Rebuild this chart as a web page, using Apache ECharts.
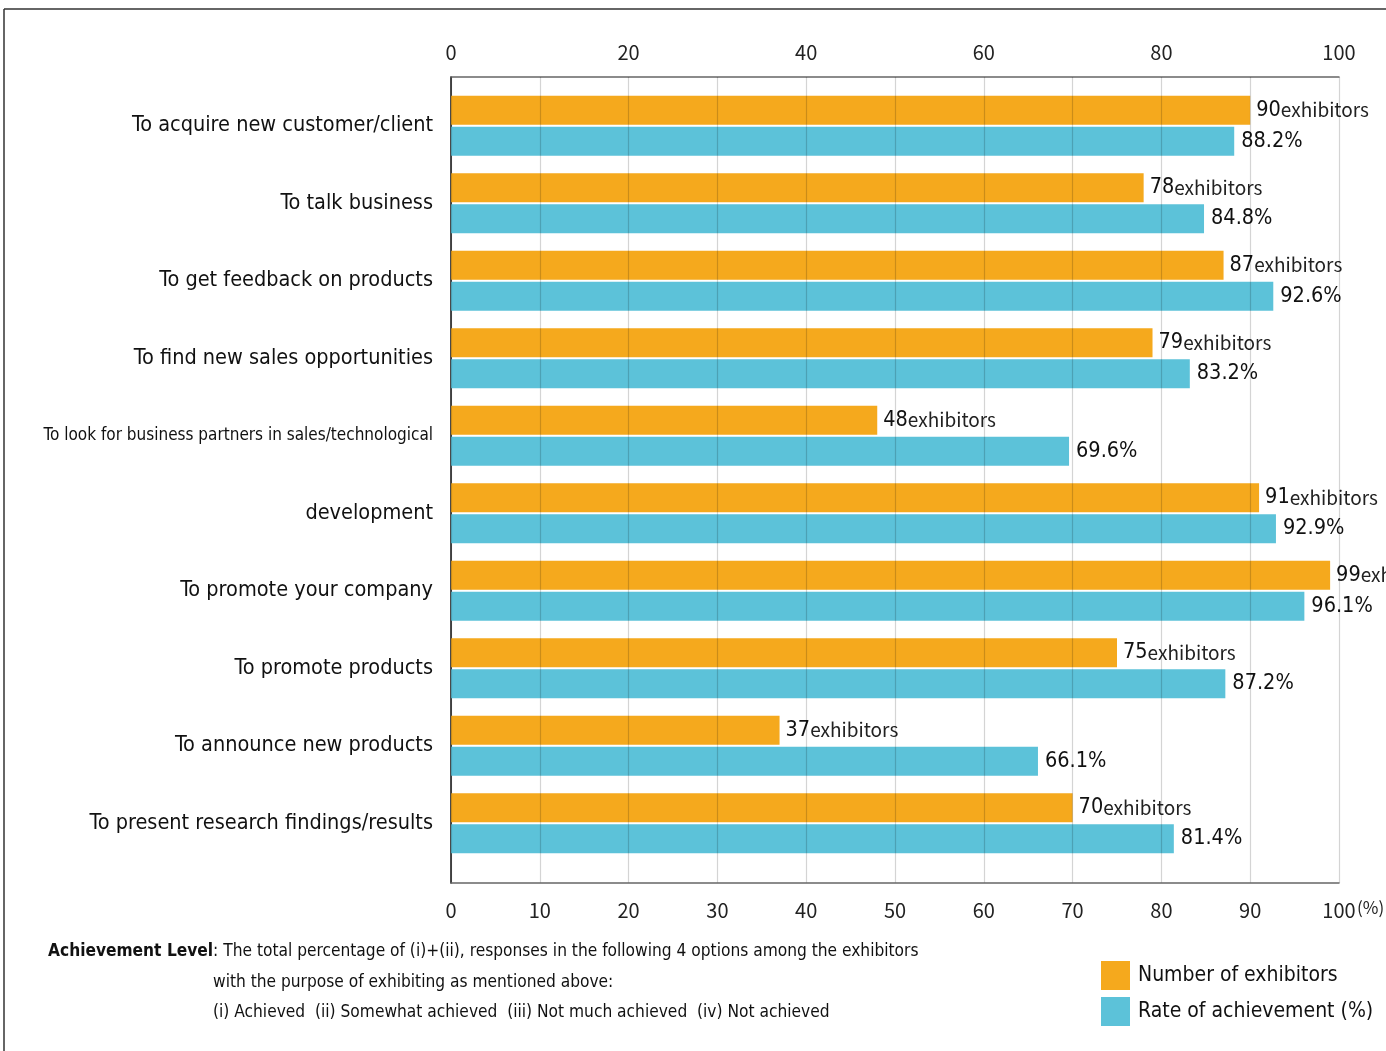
<!DOCTYPE html>
<html><head><meta charset="utf-8">
<script src="https://cdn.jsdelivr.net/npm/echarts@6/dist/echarts.min.js"></script>
<style>html,body{margin:0;padding:0;background:#fff}#c{width:1386px;height:1051px}</style>
</head><body><div id="c"></div>
<script>
const categories = [
  'To acquire new customer/client',
  'To talk business',
  'To get feedback on products',
  'To find new sales opportunities',
  'To look for business partners in sales/technological',
  'development',
  'To promote your company',
  'To promote products',
  'To announce new products',
  'To present research findings/results'
];
const exhibitors = [90, 78, 87, 79, 48, 91, 99, 75, 37, 70];
const achievementRate = [88.2, 84.8, 92.6, 83.2, 69.6, 92.9, 96.1, 87.2, 66.1, 81.4];
const topTicks = [0, 20, 40, 60, 80, 100];
const bottomTicks = [0, 10, 20, 30, 40, 50, 60, 70, 80, 90, 100];

const NARROW = '"Liberation Sans Narrow","DejaVu Sans Condensed",sans-serif';
const CJK = '"Noto Sans CJK JP","Noto Sans",sans-serif';
const ORANGE = '#F5A91D';
const BLUE = '#5CC2D9';

const chart = echarts.init(document.getElementById('c'), null, {renderer: 'canvas'});
chart.setOption({
  animation: false,
  backgroundColor: '#fff',
  grid: [
    {left: 451, right: 47, top: 77, bottom: 168, containLabel: false, outerBoundsMode: 'none'},
    {left: 451, right: 47, top: 87, bottom: 189, containLabel: false, outerBoundsMode: 'none'}
  ],
  legend: {
    orient: 'vertical', left: 1101, top: 961, itemWidth: 29, itemHeight: 29, itemGap: 7,
    padding: 0, icon: 'rect',
    textStyle: {fontFamily: NARROW, fontSize: 21, color: '#111', padding: [0, 0, 0, 3]},
    data: ['Number of exhibitors', 'Rate of achievement (%)']
  },
  xAxis: [
    {
      gridIndex: 0, type: 'value', position: 'top', min: 0, max: 100, interval: 20,
      axisLine: {show: true, lineStyle: {color: '#666', width: 1.5}},
      axisTick: {show: false}, splitLine: {show: false},
      axisLabel: {margin: 15, fontFamily: CJK, fontSize: 20, color: '#222', customValues: topTicks}
    },
    {
      gridIndex: 0, type: 'value', position: 'bottom', min: 0, max: 100, interval: 10, z: 5,
      axisLine: {show: true, lineStyle: {color: '#666', width: 1.5}},
      axisTick: {show: false},
      splitLine: {show: true, lineStyle: {color: 'rgba(0,0,0,0.17)', width: 1.2}},
      axisLabel: {margin: 17, fontFamily: CJK, fontSize: 20, color: '#222', customValues: bottomTicks}
    },
    {gridIndex: 1, type: 'value', min: 0, max: 100, show: false}
  ],
  yAxis: [
    {gridIndex: 0, type: 'category', data: [''], axisLine: {show: true, lineStyle: {color: '#111', width: 1.5}},
      axisTick: {show: false}, axisLabel: {show: false}, splitLine: {show: false}},
    {gridIndex: 1, type: 'category', data: categories, inverse: true,
      axisLine: {show: false}, axisTick: {show: false},
      axisLabel: {margin: 18, fontFamily: NARROW, fontSize: 21.5, color: '#111',
        formatter: function (v, i) { return i === 4 ? '{s|' + v + '}' : v; },
        rich: {s: {fontFamily: NARROW, fontSize: 17, color: '#111'}}}}
  ],
  series: [
    {
      name: 'Number of exhibitors', type: 'bar', xAxisIndex: 2, yAxisIndex: 1,
      data: exhibitors, barWidth: 29, barGap: '7%', itemStyle: {color: ORANGE},
      label: {show: true, position: 'right', distance: 6,
        formatter: '{n|{c}}{u|exhibitors}',
        rich: {n: {fontFamily: NARROW, fontSize: 21.5, color: '#111'},
               u: {fontFamily: CJK, fontSize: 19, color: '#222'}}}
    },
    {
      name: 'Rate of achievement (%)', type: 'bar', xAxisIndex: 2, yAxisIndex: 1,
      data: achievementRate, barWidth: 29, itemStyle: {color: BLUE},
      label: {show: true, position: 'right', distance: 7, formatter: '{c}%',
        fontFamily: NARROW, fontSize: 21.5, color: '#111'}
    }
  ],
  graphic: [
    {type: 'line', shape: {x1: 4, y1: 9, x2: 1386, y2: 9}, style: {stroke: '#333', lineWidth: 1.5}, silent: true},
    {type: 'line', shape: {x1: 4, y1: 9, x2: 4, y2: 1051}, style: {stroke: '#333', lineWidth: 1.5}, silent: true},
    {type: 'text', left: 1357, top: 899, style: {text: '(%)', font: '17px ' + CJK, fill: '#222'}},
    {type: 'text', left: 48, top: 943, style: {
      text: '{b|Achievement Level}: The total percentage of (i)+(ii), responses in the following 4 options among the exhibitors',
      rich: {b: {fontFamily: NARROW, fontSize: 17.2, fontWeight: 'bold', fill: '#111'}},
      font: '17.2px ' + NARROW, fill: '#111'}},
    {type: 'text', left: 213, top: 974, style: {text: 'with the purpose of exhibiting as mentioned above:', font: '17.2px ' + NARROW, fill: '#111'}},
    {type: 'text', left: 213, top: 1004, style: {text: '(i) Achieved  (ii) Somewhat achieved  (iii) Not much achieved  (iv) Not achieved', font: '17.2px ' + NARROW, fill: '#111'}}
  ]
});
</script></body></html>
